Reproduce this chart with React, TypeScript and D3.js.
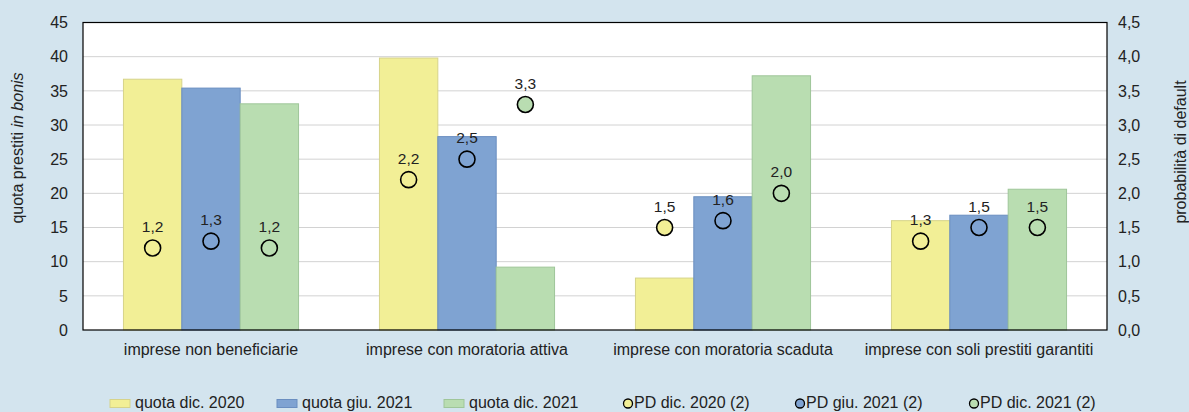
import React from "react";
import * as d3 from "d3";

const categories = [
  "imprese non beneficiarie",
  "imprese con moratoria attiva",
  "imprese con moratoria scaduta",
  "imprese con soli prestiti garantiti",
];
const barSeries = ["quota dic. 2020", "quota giu. 2021", "quota dic. 2021"];
const pdSeries = ["PD dic. 2020 (2)", "PD giu. 2021 (2)", "PD dic. 2021 (2)"];
const quotaDic2020 = [36.7, 39.8, 7.6, 16.0];
const quotaGiu2021 = [35.4, 28.3, 19.5, 16.8];
const quotaDic2021 = [33.1, 9.2, 37.2, 20.6];
const pdDic2020 = [1.2, 2.2, 1.5, 1.3];
const pdGiu2021 = [1.3, 2.5, 1.6, 1.5];
const pdDic2021 = [1.2, 3.3, 2.0, 1.5];
const leftTicks = [0, 5, 10, 15, 20, 25, 30, 35, 40, 45];
const rightTicks = [0, 0.5, 1, 1.5, 2, 2.5, 3, 3.5, 4, 4.5];

const fills = ["#f2ef96", "#7fa3d2", "#b9ddb1"];
const strokes = ["#d6d38a", "#6a8ec0", "#9fc699"];

const W = 1189;
const H = 412;
const m = { left: 83, right: 1107, top: 22.5, bottom: 330 };
const FONT = "'Liberation Sans', Arial, Helvetica, sans-serif";
const FS = 16;

export default function App() {
  const quotas = [quotaDic2020, quotaGiu2021, quotaDic2021];
  const pds = [pdDic2020, pdGiu2021, pdDic2021];
  const x0 = d3
    .scaleBand<string>()
    .domain(categories)
    .range([m.left, m.right])
    .paddingInner(0.316)
    .paddingOuter(0.158);
  const x1 = d3
    .scaleBand<string>()
    .domain(barSeries)
    .range([0, x0.bandwidth()])
    .padding(0);
  const yL = d3.scaleLinear().domain([0, 45]).range([m.bottom, m.top]);
  const yR = d3.scaleLinear().domain([0, 4.5]).range([m.bottom, m.top]);
  const fmt = (v: number) => d3.format(".1f")(v).replace(".", ",");

  const legendRects = [110, 277, 444];
  const legendCircles = [628, 800, 974];

  return (
    <svg
      width={W}
      height={H}
      style={{ position: "absolute", left: 0, top: 0, display: "block" }}
      fontFamily={FONT}
    >
      <rect x={0} y={0} width={W} height={H} fill="#d3e4ee" />
      <rect
        x={m.left}
        y={m.top}
        width={m.right - m.left}
        height={m.bottom - m.top}
        fill="#ffffff"
      />
      {leftTicks.map((t) =>
        t === 0 || t === 45 ? null : (
          <line
            key={"g" + t}
            x1={m.left}
            x2={m.right}
            y1={yL(t)}
            y2={yL(t)}
            stroke="#d2d2d2"
            strokeWidth={1}
          />
        )
      )}
      {categories.map((c, ci) => (
        <g key={c}>
          {barSeries.map((s, si) => {
            const v = quotas[si][ci];
            const bx = (x0(c) as number) + (x1(s) as number);
            return (
              <rect
                key={s}
                x={bx}
                y={yL(v)}
                width={x1.bandwidth()}
                height={yL(0) - yL(v)}
                fill={fills[si]}
                stroke={strokes[si]}
                strokeWidth={1}
              />
            );
          })}
        </g>
      ))}
      <rect
        x={m.left}
        y={m.top}
        width={m.right - m.left}
        height={m.bottom - m.top}
        fill="none"
        stroke="#000"
        strokeWidth={1.2}
      />
      {categories.map((c, ci) => (
        <g key={"pd" + c}>
          {barSeries.map((s, si) => {
            const v = pds[si][ci];
            const cx = (x0(c) as number) + (x1(s) as number) + x1.bandwidth() / 2;
            const cy = yR(v);
            return (
              <g key={s}>
                <circle
                  cx={cx}
                  cy={cy}
                  r={8}
                  fill={fills[si]}
                  stroke="#000"
                  strokeWidth={1.6}
                />
                <text
                  x={cx}
                  y={cy - 16}
                  textAnchor="middle"
                  fontSize={15.5}
                  fill="#222"
                >
                  {fmt(v)}
                </text>
              </g>
            );
          })}
        </g>
      ))}
      {leftTicks.map((t) => (
        <text
          key={"l" + t}
          x={68}
          y={yL(t)}
          dy="0.36em"
          textAnchor="end"
          fontSize={FS}
          fill="#222"
        >
          {t}
        </text>
      ))}
      {rightTicks.map((t) => (
        <text
          key={"r" + t}
          x={1118}
          y={yR(t)}
          dy="0.36em"
          textAnchor="start"
          fontSize={FS}
          fill="#222"
        >
          {fmt(t)}
        </text>
      ))}
      {categories.map((c) => (
        <text
          key={"x" + c}
          x={(x0(c) as number) + x0.bandwidth() / 2}
          y={355}
          textAnchor="middle"
          fontSize={FS}
          fill="#222"
        >
          {c}
        </text>
      ))}
      <text
        transform={`translate(23,148) rotate(-90)`}
        textAnchor="middle"
        fontSize={FS}
        fill="#222"
      >
        quota prestiti <tspan fontStyle="italic">in bonis</tspan>
      </text>
      <text
        transform={`translate(1186,152) rotate(-90)`}
        textAnchor="middle"
        fontSize={FS}
        fill="#222"
      >
        probabilità di default
      </text>
      {barSeries.map((s, i) => (
        <g key={"lg" + s}>
          <rect
            x={legendRects[i]}
            y={399.5}
            width={20}
            height={8}
            fill={fills[i]}
            stroke={strokes[i]}
            strokeWidth={1}
          />
          <text x={legendRects[i] + 25} y={408} fontSize={FS} fill="#222">
            {s}
          </text>
        </g>
      ))}
      {pdSeries.map((s, i) => (
        <g key={"lp" + s}>
          <circle
            cx={legendCircles[i]}
            cy={403.5}
            r={4.5}
            fill={fills[i]}
            stroke="#000"
            strokeWidth={1.3}
          />
          <text x={legendCircles[i] + 6} y={408} fontSize={FS} fill="#222">
            {s}
          </text>
        </g>
      ))}
    </svg>
  );
}
